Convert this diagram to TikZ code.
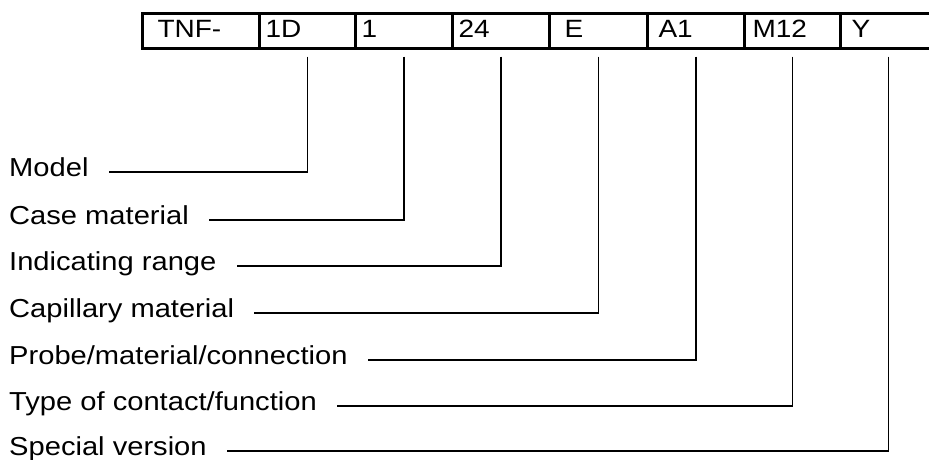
\documentclass[tikz,border=0pt]{standalone}
\usepackage{fontspec}
\setmainfont[FakeStretch=1.12]{Liberation Sans}
\begin{document}
\begin{tikzpicture}[
        x=1pt, y=1pt,
        codebox/.style={draw, line width=3pt, anchor=north west, inner xsep=0pt, inner ysep=0pt,
            minimum height=35pt, text height=18pt, text depth=4pt, align=left,
            font=\fontsize{25pt}{29pt}\selectfont},
        partlabel/.style={anchor=base west, inner sep=0pt, font=\fontsize{26pt}{30pt}\selectfont},
        lead/.style={line width=1.6pt}
    ]
        \useasboundingbox (0, 0) rectangle (929, -459);
        % order code
        \node[codebox, text width=117pt] (tnf) at (141, -11.5) {\hspace*{15pt}TNF-};
        \node[codebox, text width=96pt] (mdl) at (258, -11.5) {\hspace*{6pt}1D};
        \node[codebox, text width=97pt] (cse) at (354, -11.5) {\hspace*{6pt}1};
        \node[codebox, text width=97pt] (rng) at (451, -11.5) {\hspace*{6pt}24};
        \node[codebox, text width=98pt] (cap) at (548, -11.5) {\hspace*{15pt}E};
        \node[codebox, text width=97pt] (prb) at (646, -11.5) {\hspace*{11pt}A1};
        \node[codebox, text width=96pt] (cnt) at (743, -11.5) {\hspace*{8pt}M12};
        \node[codebox, text width=96pt] (spc) at (839, -11.5) {\hspace*{11pt}Y};
        % descriptions
        \node[partlabel] (lmdl) at (9, -176) {Model};
        \node[partlabel] (lcse) at (9, -224) {Case material};
        \node[partlabel] (lrng) at (9, -270) {Indicating range};
        \node[partlabel] (lcap) at (9, -317) {Capillary material};
        \node[partlabel] (lprb) at (9, -364) {Probe/material/connection};
        \node[partlabel] (lcnt) at (9, -410) {Type of contact/function};
        \node[partlabel] (lspc) at (9, -455) {Special version};
        % leaders
        \draw[lead] ([yshift=-7pt]mdl.south) |- ([xshift=20pt, yshift=4pt]lmdl.base east);
        \draw[lead] ([yshift=-7pt]cse.south) |- ([xshift=20pt, yshift=4pt]lcse.base east);
        \draw[lead] ([yshift=-7pt]rng.south) |- ([xshift=20pt, yshift=4pt]lrng.base east);
        \draw[lead] ([yshift=-7pt]cap.south) |- ([xshift=20pt, yshift=4pt]lcap.base east);
        \draw[lead] ([yshift=-7pt]prb.south) |- ([xshift=20pt, yshift=4pt]lprb.base east);
        \draw[lead] ([yshift=-7pt]cnt.south) |- ([xshift=20pt, yshift=4pt]lcnt.base east);
        \draw[lead] ([yshift=-7pt]spc.south) |- ([xshift=20pt, yshift=4pt]lspc.base east);
    \end{tikzpicture}
\end{document}
